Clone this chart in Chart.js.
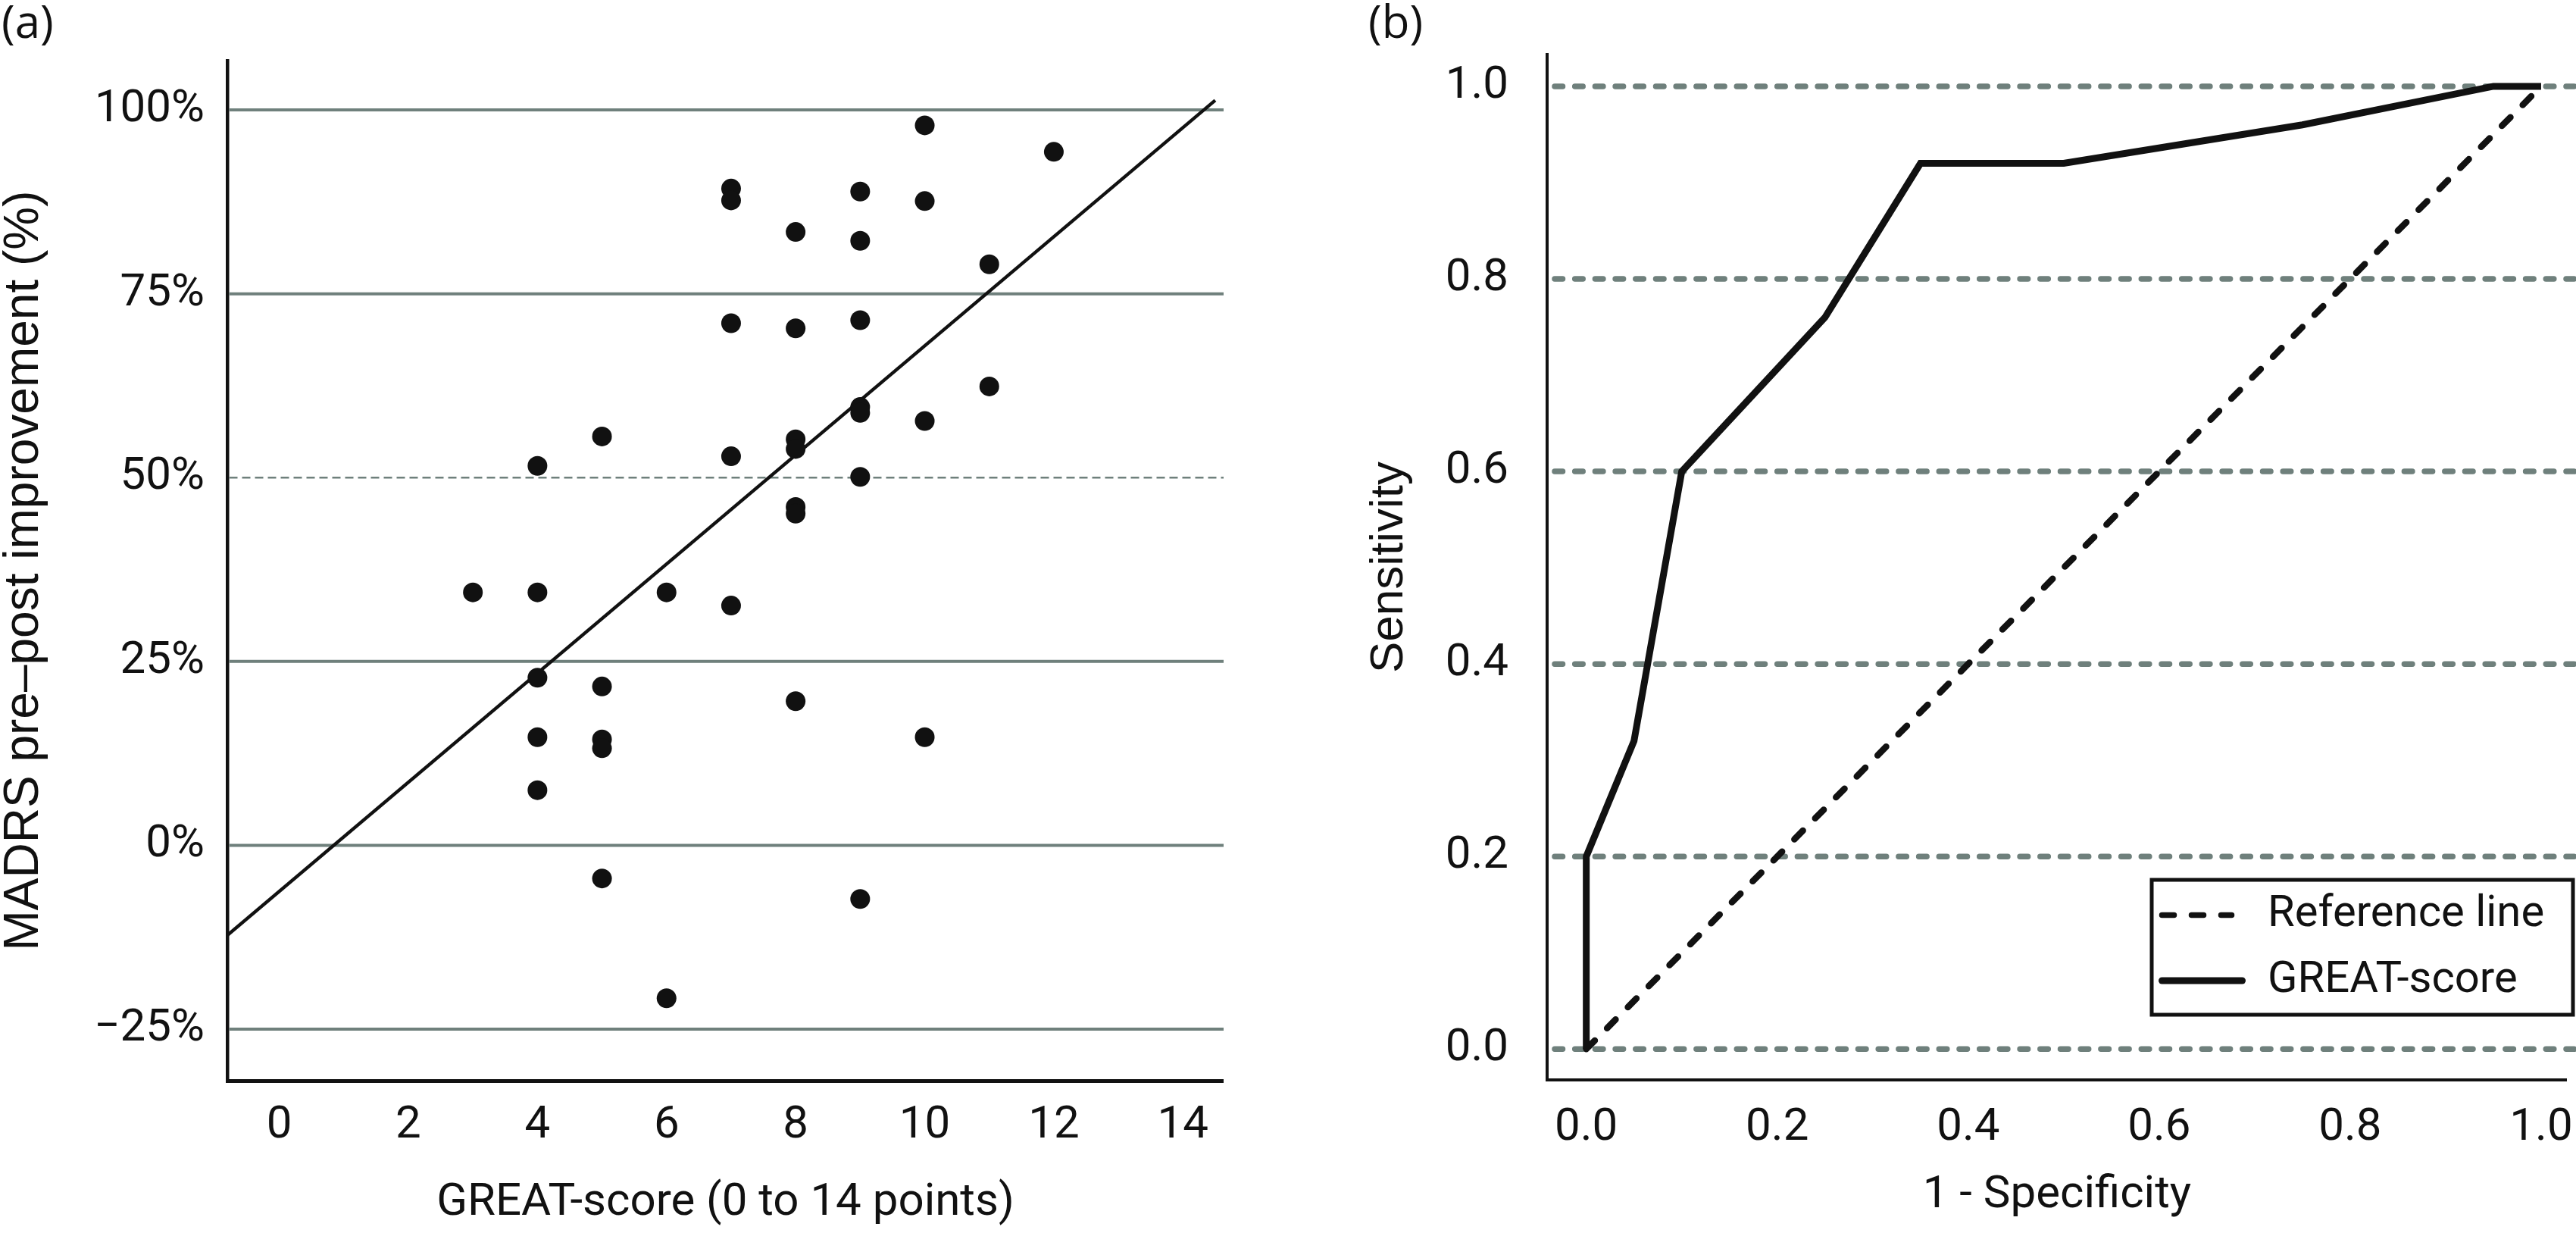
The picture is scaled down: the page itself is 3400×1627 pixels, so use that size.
<!DOCTYPE html>
<html>
<head>
<meta charset="utf-8">
<script src="https://cdn.jsdelivr.net/npm/chart.js@4.4.1/dist/chart.umd.min.js"></script>
<style>
  body { margin: 0; background: #fff; }
  #wrap { position: relative; width: 3400px; height: 1627px; }
  canvas { position: absolute; top: 0; }
  #leftChart { left: 0; }
  #rightChart { left: 1700px; }
  .panel { position: absolute; top: -3px; font-family: 'Open Sans'; font-size: 60px; line-height: 1; color: #111; }
</style>
</head>
<body>
<div id="wrap">
  <canvas id="leftChart" width="1700" height="1627"></canvas>
  <canvas id="rightChart" width="1700" height="1627"></canvas>
  <div class="panel" style="left:2px">(a)</div>
  <div class="panel" style="left:1806px">(b)</div>
</div>
<script>
// panel (a): GREAT-score vs MADRS pre-post improvement
const greatScore = [10, 12, 7, 7, 9, 10, 8, 9, 11, 7, 8, 9, 11, 9, 9, 10, 5, 8, 8, 7, 4, 9, 8, 8,
  3, 4, 6, 7, 4, 5, 8, 4, 5, 5, 10, 4, 5, 9, 6];
const madrsImprovement = [97.9, 94.3, 89.3, 87.7, 88.9, 87.6, 83.4, 82.2, 79.0, 71.0, 70.3, 71.4, 62.4, 59.6, 58.8, 57.7, 55.6, 55.2, 53.9, 52.9, 51.6, 50.1, 46.0, 45.1,
  34.4, 34.4, 34.4, 32.6, 22.8, 21.6, 19.6, 14.7, 14.4, 13.2, 14.7, 7.5, -4.5, -7.3, -20.8];
const trendScore = [-0.8, 14.5];
const trendImprovement = [-12.2, 101.3];
const scoreTicks = [0, 2, 4, 6, 8, 10, 12, 14];
const improvementTicks = [-25, 0, 25, 50, 75, 100];

// panel (b): ROC curve
const falsePositiveRate = [0, 0, 0.05, 0.1, 0.25, 0.35, 0.5, 0.75, 0.95, 1.0];
const sensitivity = [0, 0.2, 0.32, 0.6, 0.76, 0.92, 0.92, 0.96, 1.0, 1.0];
const referenceX = [0, 1];
const referenceY = [0, 1];
const rateTicks = [0, 0.2, 0.4, 0.6, 0.8, 1.0];

const INK = '#111';
const GRID = '#6f807c';

// horizontal grid lines with per-line style (dashed 50% line, round dotted lines)
const styledGrid = {
  id: 'styledGrid',
  beforeDatasetsDraw(chart, args, opts) {
    const { ctx, chartArea } = chart;
    const yScale = chart.scales.y;
    yScale.ticks.forEach((tick) => {
      const special = opts.special && opts.special.value === tick.value ? opts.special : null;
      const y = yScale.getPixelForValue(tick.value);
      ctx.save();
      ctx.strokeStyle = opts.color;
      ctx.lineWidth = special ? special.width : opts.width;
      ctx.setLineDash(special ? special.dash : opts.dash);
      ctx.lineCap = opts.cap;
      ctx.beginPath();
      ctx.moveTo(chartArea.left + opts.inset, y);
      ctx.lineTo(chartArea.right + opts.extendRight, y);
      ctx.stroke();
      ctx.restore();
    });
  },
};

// legend in a black box, samples taken from the dataset styles
const boxedLegend = {
  id: 'boxedLegend',
  afterDraw(chart, args, opts) {
    const { ctx } = chart;
    ctx.save();
    ctx.fillStyle = '#fff';
    ctx.fillRect(opts.left, opts.top, opts.width, opts.height);
    ctx.strokeStyle = INK;
    ctx.lineWidth = opts.borderWidth;
    ctx.strokeRect(opts.left, opts.top, opts.width, opts.height);
    chart.data.datasets.forEach((ds, i) => {
      const y = opts.top + opts.firstRow + i * opts.rowGap;
      const x0 = opts.left + opts.sampleStart;
      ctx.strokeStyle = ds.borderColor;
      ctx.lineWidth = opts.sampleWidths[i];
      ctx.setLineDash(ds.borderDash || []);
      ctx.lineCap = 'round';
      ctx.beginPath();
      ctx.moveTo(x0, y);
      ctx.lineTo(x0 + opts.sampleLengths[i], y);
      ctx.stroke();
      ctx.setLineDash([]);
      ctx.fillStyle = INK;
      ctx.font = opts.font;
      ctx.textBaseline = 'middle';
      ctx.fillText(ds.label, opts.left + opts.textStart, y);
    });
    ctx.restore();
  },
};

// keep the plot area where it is, even if edge tick labels stick out
function noLabelPadding(scale) {
  scale.paddingLeft = 0;
  scale.paddingRight = 0;
  scale.paddingTop = 0;
  scale.paddingBottom = 0;
}

const tickFont = { family: 'Roboto', size: 60 };

new Chart(document.getElementById('leftChart'), {
  type: 'scatter',
  data: {
    datasets: [
      {
        label: 'Patients',
        data: greatScore.map((s, i) => ({ x: s, y: madrsImprovement[i] })),
        backgroundColor: INK,
        borderWidth: 0,
        pointRadius: 13,
        pointHoverRadius: 13,
      },
      {
        label: 'Linear fit',
        data: trendScore.map((s, i) => ({ x: s, y: trendImprovement[i] })),
        showLine: true,
        borderColor: INK,
        borderWidth: 4.5,
        pointRadius: 0,
      },
    ],
  },
  options: {
    responsive: false,
    animation: false,
    layout: { padding: { top: 80, right: 85, left: 0, bottom: 0 } },
    scales: {
      x: {
        type: 'linear',
        min: -0.805,
        max: 14.63,
        afterBuildTicks: (scale) => { scale.ticks = scoreTicks.map((v) => ({ value: v })); },
        afterFit: (scale) => { scale.height = 201; noLabelPadding(scale); },
        grid: { color: 'rgba(0,0,0,0)', lineWidth: 0, drawTicks: false },
        border: { color: INK, width: 5 },
        ticks: { font: tickFont, color: INK, padding: 24, autoSkip: false, maxRotation: 0 },
        title: {
          display: true,
          text: 'GREAT-score (0 to 14 points)',
          font: { family: 'Roboto', size: 60, lineHeight: 1 },
          color: INK,
          padding: { top: 0, bottom: 9 },
        },
      },
      y: {
        type: 'linear',
        min: -32,
        max: 106.7,
        afterBuildTicks: (scale) => { scale.ticks = improvementTicks.map((v) => ({ value: v })); },
        afterFit: (scale) => { scale.width = 300; noLabelPadding(scale); },
        grid: { color: 'rgba(0,0,0,0)', lineWidth: 0, drawTicks: false },
        border: { color: INK, width: 4.5 },
        ticks: {
          font: tickFont,
          color: INK,
          padding: 30,
          autoSkip: false,
          callback: (v) => (v < 0 ? '\u2212' + Math.abs(v) : v) + '%',
        },
        title: {
          display: true,
          text: 'MADRS pre\u2013post improvement (%)',
          font: { family: 'Liberation Sans', size: 64, lineHeight: 1 },
          color: INK,
          padding: { top: 0, bottom: 0 },
        },
      },
    },
    plugins: {
      legend: { display: false },
      tooltip: { enabled: false },
      styledGrid: {
        color: GRID, width: 4, dash: [], cap: 'butt', inset: 2.5, extendRight: 0,
        special: { value: 50, width: 2.7, dash: [11, 6] },
      },
    },
  },
  plugins: [styledGrid],
});

new Chart(document.getElementById('rightChart'), {
  type: 'scatter',
  data: {
    datasets: [
      {
        label: 'Reference line',
        data: referenceX.map((v, i) => ({ x: v, y: referenceY[i] })),
        showLine: true,
        borderColor: INK,
        borderWidth: 8.5,
        borderDash: [16, 23],
        borderCapStyle: 'round',
        pointRadius: 0,
      },
      {
        label: 'GREAT-score',
        data: falsePositiveRate.map((v, i) => ({ x: v, y: sensitivity[i] })),
        showLine: true,
        borderColor: INK,
        borderWidth: 9,
        borderJoinStyle: 'miter',
        pointRadius: 0,
      },
    ],
  },
  options: {
    responsive: false,
    animation: false,
    layout: { padding: { top: 72, right: 12, left: 0, bottom: 0 } },
    scales: {
      x: {
        type: 'linear',
        min: -0.041,
        max: 1.027,
        afterBuildTicks: (scale) => { scale.ticks = rateTicks.map((v) => ({ value: v })); },
        afterFit: (scale) => { scale.height = 202; noLabelPadding(scale); },
        grid: { color: 'rgba(0,0,0,0)', lineWidth: 0, drawTicks: false },
        border: { color: INK, width: 4 },
        ticks: { font: tickFont, color: INK, padding: 28, autoSkip: false, maxRotation: 0, callback: (v) => v.toFixed(1) },
        title: {
          display: true,
          text: '1 - Specificity',
          font: { family: 'Roboto', size: 60, lineHeight: 1 },
          color: INK,
          padding: { top: 0, bottom: 19 },
        },
      },
      y: {
        type: 'linear',
        min: -0.032,
        max: 1.033,
        afterBuildTicks: (scale) => { scale.ticks = rateTicks.map((v) => ({ value: v })); },
        afterFit: (scale) => { scale.width = 342; noLabelPadding(scale); },
        grid: { color: 'rgba(0,0,0,0)', lineWidth: 0, drawTicks: false },
        border: { color: INK, width: 4 },
        ticks: { font: tickFont, color: INK, padding: 51, autoSkip: false, callback: (v) => v.toFixed(1) },
        title: {
          display: true,
          text: 'Sensitivity',
          font: { family: 'Liberation Sans', size: 62, lineHeight: 1 },
          color: INK,
          padding: { top: 103, bottom: 0 },
        },
      },
    },
    plugins: {
      legend: { display: false },
      tooltip: { enabled: false },
      styledGrid: { color: GRID, width: 7.5, dash: [10.5, 16.2], cap: 'round', inset: 10, extendRight: 12 },
      boxedLegend: {
        left: 1140, top: 1161, width: 556, height: 178, borderWidth: 5,
        firstRow: 46.5, rowGap: 86.5, sampleStart: 13.5, sampleLengths: [92, 106], sampleWidths: [7.5, 9],
        textStart: 153, font: '58px Roboto',
      },
    },
  },
  plugins: [styledGrid, boxedLegend],
});
</script>
</body>
</html>
